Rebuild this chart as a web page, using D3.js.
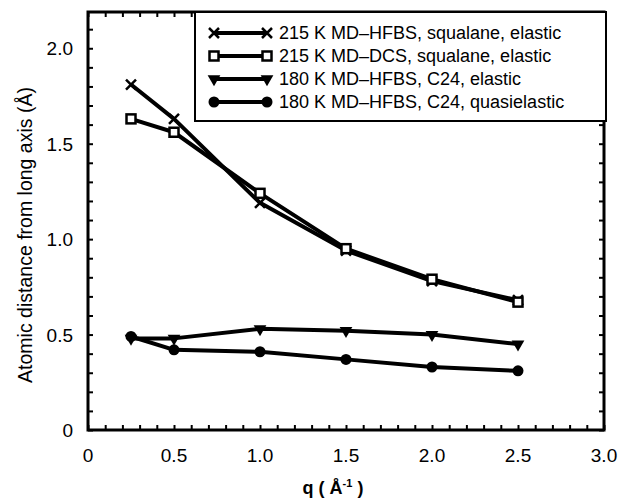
<!DOCTYPE html>
<html>
<head>
<meta charset="utf-8">
<script src="https://cdn.jsdelivr.net/npm/d3@7"></script>
<style>
  body { margin: 0; background: #fff; }
  text { font-family: "Liberation Sans", Arial, sans-serif; fill: #000; }
</style>
</head>
<body>
<script>
// Data
const qValues = [0.25, 0.5, 1.0, 1.5, 2.0, 2.5];
const hfbsSqualane = [1.81, 1.63, 1.19, 0.94, 0.78, 0.68];
const dcsSqualane = [1.63, 1.56, 1.24, 0.95, 0.79, 0.67];
const hfbsC24Elastic = [0.48, 0.48, 0.53, 0.52, 0.50, 0.45];
const hfbsC24Quasi = [0.49, 0.42, 0.41, 0.37, 0.33, 0.31];
const seriesNames = [
    "215 K MD\u2013HFBS, squalane, elastic",
    "215 K MD\u2013DCS, squalane, elastic",
    "180 K MD\u2013HFBS, C24, elastic",
    "180 K MD\u2013HFBS, C24, quasielastic"
];
const seriesMarkers = ["cross", "square", "triangle", "circle"];
const xTickLabels = ["0", "0.5", "1.0", "1.5", "2.0", "2.5", "3.0"];
const yTickLabels = ["0", "0.5", "1.0", "1.5", "2.0"];

const width = 619,
    height = 498,
    margin = {top: 12, right: 15, bottom: 68, left: 88};

const series = [hfbsSqualane, dcsSqualane, hfbsC24Elastic, hfbsC24Quasi].map((vals, i) => ({
    name: seriesNames[i],
    marker: seriesMarkers[i],
    points: vals.map((v, j) => ({q: qValues[j], r: v}))
}));

let svg = d3.select('body').append('svg')
    .attr('width', width)
    .attr('height', height);

let x = d3.scaleLinear()
    .domain([0, 3])
    .range([margin.left, width - margin.right]);

let y = d3.scaleLinear()
    .domain([0, 2.19])
    .range([height - margin.bottom, margin.top]);

const minor = d3.range(0, 31).map(d => d / 10);
const minorY = d3.range(0, 22).map(d => d / 10);

// Inward ticks on all four sides
svg.append('g')
    .attr('transform', 'translate(0,' + y(0) + ')')
    .call(d3.axisTop(x).tickValues(minor).tickSize(5).tickFormat(''));
svg.append('g')
    .attr('transform', 'translate(0,' + y.range()[1] + ')')
    .call(d3.axisBottom(x).tickValues(minor).tickSize(5).tickFormat(''));
svg.append('g')
    .attr('transform', 'translate(' + x(0) + ',0)')
    .call(d3.axisRight(y).tickValues(minorY).tickSize(5).tickFormat(''));
svg.append('g')
    .attr('transform', 'translate(' + x(3) + ',0)')
    .call(d3.axisLeft(y).tickValues(minorY).tickSize(5).tickFormat(''));
svg.selectAll('.domain').remove();
svg.selectAll('.tick line').attr('stroke', '#000').attr('stroke-width', 2);

// Frame
svg.append('rect')
    .attr('x', x(0))
    .attr('y', y.range()[1])
    .attr('width', x(3) - x(0))
    .attr('height', y(0) - y.range()[1])
    .attr('fill', 'none')
    .attr('stroke', '#000')
    .attr('stroke-width', 3);

// Tick labels
svg.append('g').selectAll('text')
    .data(xTickLabels).enter().append('text')
    .attr('x', d => x(+d))
    .attr('y', y(0) + 32)
    .attr('text-anchor', 'middle')
    .attr('font-size', 19)
    .text(d => d);

svg.append('g').selectAll('text')
    .data(yTickLabels).enter().append('text')
    .attr('x', x(0) - 15)
    .attr('y', d => y(+d) + 7)
    .attr('text-anchor', 'end')
    .attr('font-size', 19)
    .text(d => d);

// Axis titles
svg.append('text')
    .attr('transform', 'translate(32,235) rotate(-90)')
    .attr('text-anchor', 'middle')
    .attr('font-size', 19.5)
    .text('Atomic distance from long axis (\u00c5)');

let xTitle = svg.append('text')
    .attr('x', 333)
    .attr('y', 494)
    .attr('text-anchor', 'middle')
    .attr('font-size', 18)
    .attr('font-weight', 'bold');
xTitle.append('tspan').text('q ( \u00c5');
xTitle.append('tspan').attr('dy', -7).attr('font-size', 11).text('-1');
xTitle.append('tspan').attr('dy', 7).text(' )');

function drawMarker(g, type, cx, cy) {
    if (type === 'cross') {
        g.append('path')
            .attr('d', 'M' + (cx - 5) + ',' + (cy - 5) + 'L' + (cx + 5) + ',' + (cy + 5) +
                'M' + (cx - 5) + ',' + (cy + 5) + 'L' + (cx + 5) + ',' + (cy - 5))
            .attr('stroke', '#000').attr('stroke-width', 2.5);
    } else if (type === 'square') {
        g.append('rect')
            .attr('x', cx - 4.5).attr('y', cy - 4.5)
            .attr('width', 9).attr('height', 9)
            .attr('fill', '#fff').attr('stroke', '#000').attr('stroke-width', 2.5);
    } else if (type === 'triangle') {
        g.append('path')
            .attr('d', d3.symbol(d3.symbolTriangle, 70)())
            .attr('transform', 'translate(' + cx + ',' + cy + ') rotate(180)')
            .attr('fill', '#000');
    } else {
        g.append('circle')
            .attr('cx', cx).attr('cy', cy).attr('r', 5.5)
            .attr('fill', '#000');
    }
}

let line = d3.line()
    .x(d => x(d.q))
    .y(d => y(d.r));

// Data lines and markers
let plot = svg.append('g');
series.forEach(s => {
    plot.append('path')
        .datum(s.points)
        .attr('d', line)
        .attr('fill', 'none')
        .attr('stroke', '#000')
        .attr('stroke-width', 4)
        .attr('stroke-linejoin', 'round');
    s.points.forEach(p => drawMarker(plot, s.marker, x(p.q), y(p.r)));
});

// Legend
let legend = svg.append('g');
legend.append('rect')
    .attr('x', 195)
    .attr('y', y.range()[1])
    .attr('width', x(3) + 2 - 195)
    .attr('height', 109)
    .attr('fill', '#fff')
    .attr('stroke', '#000')
    .attr('stroke-width', 2);

series.forEach((s, i) => {
    let ly = 33 + i * 23;
    legend.append('line')
        .attr('x1', 214).attr('x2', 267)
        .attr('y1', ly).attr('y2', ly)
        .attr('stroke', '#000').attr('stroke-width', 4);
    drawMarker(legend, s.marker, 214, ly);
    drawMarker(legend, s.marker, 267, ly);
    legend.append('text')
        .attr('x', 279)
        .attr('y', ly + 6)
        .attr('font-size', 18)
        .text(s.name);
});
</script>
</body>
</html>
